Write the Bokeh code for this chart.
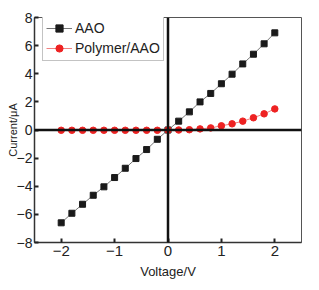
from bokeh.plotting import figure
from bokeh.models import Span, Legend, LegendItem
from bokeh.embed import file_html
from bokeh.resources import INLINE

voltage = [-2.0, -1.8, -1.6, -1.4, -1.2, -1.0, -0.8, -0.6, -0.4, -0.2, 0.0,
           0.2, 0.4, 0.6, 0.8, 1.0, 1.2, 1.4, 1.6, 1.8, 2.0]
aao = [-6.6, -5.92, -5.28, -4.64, -4.04, -3.38, -2.72, -2.03, -1.39, -0.66, 0.0,
       0.63, 1.29, 2.0, 2.6, 3.29, 3.97, 4.7, 5.39, 6.13, 6.91]
polymer = [-0.02, -0.02, -0.02, -0.02, -0.02, -0.02, -0.02, -0.02, -0.02, -0.02, 0.0,
           0.0, 0.02, 0.08, 0.15, 0.3, 0.44, 0.63, 0.87, 1.15, 1.5]
x_ticks = [-2, -1, 0, 1, 2]
y_ticks = [-8, -6, -4, -2, 0, 2, 4, 6, 8]
series_names = ["AAO", "Polymer/AAO"]
x_title = "Voltage/V"
y_title = "Current/μA"

FONT = "Liberation Sans"

p = figure(width=311, height=282, output_backend="svg", toolbar_location=None,
           x_range=(-2.5, 2.5), y_range=(-8, 8),
           min_border_left=34, min_border_right=10, min_border_top=17, min_border_bottom=40)
p.grid.visible = False
p.background_fill_color = "white"
p.border_fill_color = "white"
p.outline_line_color = "#555555"
p.outline_line_width = 1

for ax in (p.xaxis[0], p.yaxis[0]):
    ax.major_tick_in = 4
    ax.major_tick_out = 0
    ax.minor_tick_in = 2
    ax.minor_tick_out = 0
    ax.major_tick_line_width = 2
    ax.minor_tick_line_width = 1.5
    ax.major_tick_line_color = "#222222"
    ax.minor_tick_line_color = "#222222"
    ax.axis_line_color = "#333333"
    ax.axis_line_width = 1.5
    ax.major_label_text_font = FONT
    ax.major_label_text_font_size = "15px"
    ax.major_label_text_color = "#222222"
    ax.axis_label_text_font = FONT
    ax.axis_label_text_font_style = "normal"
    ax.axis_label_text_color = "#222222"

p.xaxis.ticker = x_ticks
p.xaxis[0].ticker.num_minor_ticks = 2
p.yaxis.ticker = y_ticks
p.yaxis[0].ticker.num_minor_ticks = 2
p.xaxis.major_label_standoff = 3
p.yaxis.major_label_standoff = 2
p.yaxis.major_label_text_font_size = "14px"

p.xaxis.axis_label = x_title
p.xaxis.axis_label_text_font_size = "13px"
p.xaxis.axis_label_standoff = 5

p.yaxis.axis_label = y_title
p.yaxis.axis_label_text_font_size = "11px"
p.yaxis.axis_label_standoff = -5

p.add_layout(Span(location=0, dimension="width", line_color="#111111", line_width=2.5))
p.add_layout(Span(location=0, dimension="height", line_color="#111111", line_width=2.5))

l1 = p.line(voltage, aao, line_color="#777777", line_width=1)
m1 = p.scatter(voltage, aao, marker="square", size=6, fill_color="#1a1a1a", line_color="#1a1a1a")
l2 = p.line(voltage, polymer, line_color="#f08080", line_width=1)
m2 = p.scatter(voltage, polymer, marker="circle", size=6.5, fill_color="#ee2222", line_color="#ee2222")

legend = Legend(items=[LegendItem(label=series_names[0], renderers=[l1, m1]),
                       LegendItem(label=series_names[1], renderers=[l2, m2])],
                location=(8, 181))
legend.label_text_font = FONT
legend.label_text_font_size = "14px"
legend.label_text_color = "#222222"
legend.glyph_width = 26
legend.glyph_height = 18
legend.label_height = 18
legend.label_standoff = 3
legend.spacing = 2
legend.padding = 3
legend.border_line_color = "#888888"
legend.border_line_width = 1
legend.background_fill_alpha = 1
p.add_layout(legend)

open("out.html", "w").write(file_html(p, INLINE))
